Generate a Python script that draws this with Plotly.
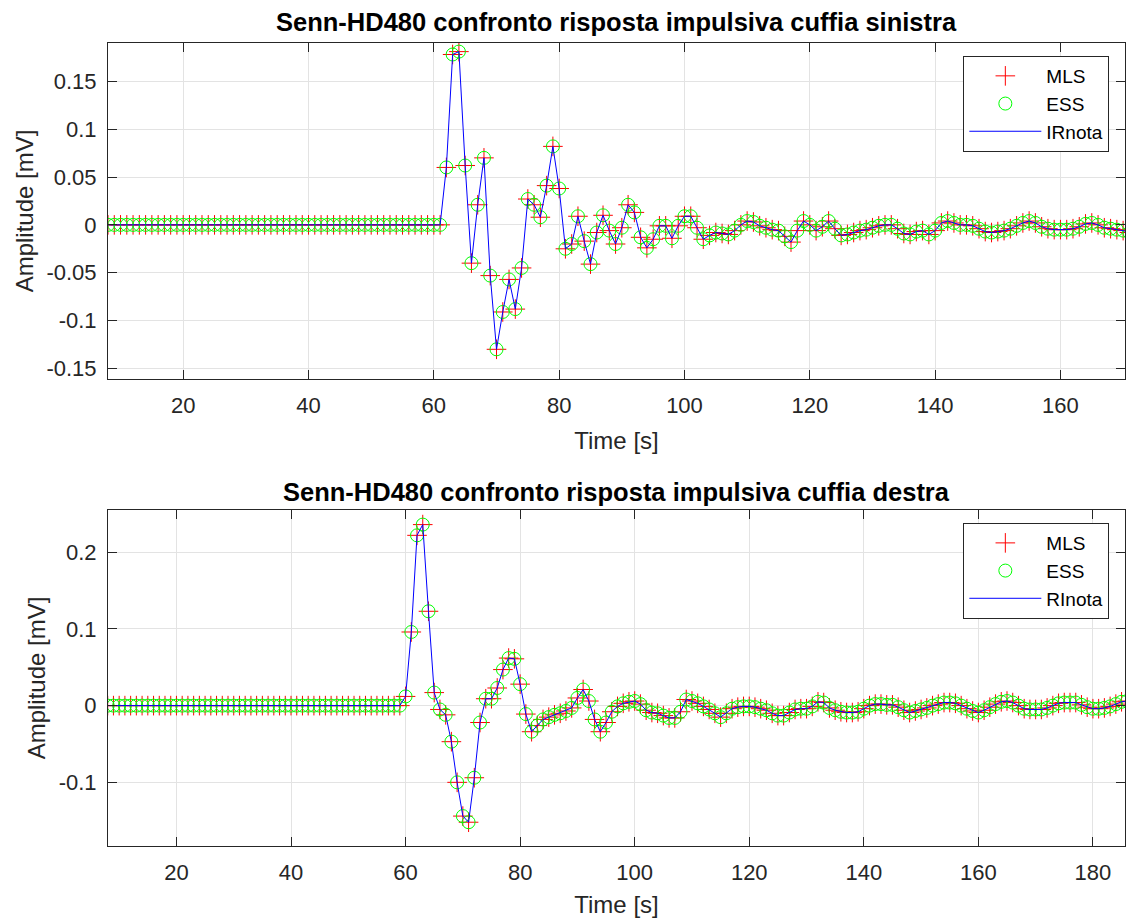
import plotly.graph_objects as go

# ---------------- data ----------------
t_left = list(range(8, 172))
ir_left = [0.0] * 54 + [
    0.060, 0.178, 0.181, 0.062, -0.040, 0.021, 0.070, -0.053, -0.130, -0.091,   # 62-71
    -0.057, -0.088, -0.045, 0.027, 0.021, 0.008, 0.041, 0.082, 0.038, -0.025,   # 72-81
    -0.020, 0.009, -0.017, -0.041, -0.008, 0.010, -0.006, -0.020, -0.003, 0.021,  # 82-91
    0.013, -0.013, -0.024, -0.015, -0.001, -0.001, -0.014, -0.001, 0.009, 0.009,  # 92-101
    -0.003, -0.015, -0.011, -0.008, -0.009, -0.010, -0.006, 0.000, 0.004, 0.003,  # 102-111
    -0.001, -0.003, -0.005, -0.006, -0.012, -0.018, -0.006, 0.004, 0.000, -0.006,  # 112-121
    -0.002, 0.004, -0.004, -0.011, -0.010, -0.008, -0.006, -0.005, -0.003, -0.001,  # 122-131
    0.000, 0.000, -0.004, -0.009, -0.010, -0.007, -0.006, -0.010, -0.006, 0.002,  # 132-141
    0.004, 0.002, 0.000, 0.000, -0.001, -0.004, -0.007, -0.008, -0.007, -0.006,  # 142-151
    -0.004, -0.001, 0.002, 0.004, 0.002, -0.002, -0.004, -0.005, -0.005, -0.005,  # 152-161
    -0.004, -0.002, 0.001, 0.002, 0.000, -0.003, -0.004, -0.005, -0.006, -0.008,  # 162-171
]
mls_left = ir_left
ess_left = ir_left

t_right = list(range(8, 187))
ir_right = [0.0] * 52 + [
    0.012, 0.096, 0.222, 0.236, 0.123, 0.017, -0.005, -0.012, -0.047, -0.100,   # 60-69
    -0.144, -0.152, -0.094, -0.022, 0.009, 0.009, 0.023, 0.047, 0.062, 0.061,   # 70-79
    0.028, -0.011, -0.034, -0.026, -0.018, -0.015, -0.012, -0.010, -0.007, -0.003,  # 80-89
    0.010, 0.021, 0.006, -0.018, -0.034, -0.022, -0.008, -0.001, 0.003, 0.005,  # 90-99
    0.006, 0.002, -0.006, -0.009, -0.010, -0.013, -0.016, -0.016, -0.008, 0.008,  # 100-109
    0.006, 0.003, -0.001, -0.005, -0.010, -0.015, -0.010, -0.004, -0.002, -0.001,  # 110-119
    -0.001, -0.002, -0.004, -0.006, -0.010, -0.013, -0.013, -0.009, -0.005, -0.004,  # 120-129
    -0.004, -0.001, 0.005, 0.004, -0.003, -0.006, -0.008, -0.009, -0.009, -0.008,  # 130-139
    -0.004, 0.000, 0.002, 0.002, 0.001, 0.001, -0.002, -0.006, -0.009, -0.007,  # 140-149
    -0.005, -0.003, 0.000, 0.002, 0.004, 0.004, 0.003, 0.000, -0.004, -0.007,  # 150-159
    -0.009, -0.006, -0.002, 0.002, 0.005, 0.006, 0.004, 0.000, -0.004, -0.005,  # 160-169
    -0.005, -0.005, -0.003, 0.000, 0.003, 0.004, 0.004, 0.004, 0.001, -0.002,  # 170-179
    -0.004, -0.004, -0.003, -0.001, 0.002, 0.005, 0.006,                        # 180-186
]
mls_right = ir_right
ess_right = ir_right

x_ticks_left = [20, 40, 60, 80, 100, 120, 140, 160]
x_ticks_right = [20, 40, 60, 80, 100, 120, 140, 160, 180]
y_ticks_left = [-0.15, -0.1, -0.05, 0, 0.05, 0.1, 0.15]
y_text_left = ["-0.15", "-0.1", "-0.05", "0", "0.05", "0.1", "0.15"]
y_ticks_right = [-0.1, 0, 0.1, 0.2]
y_text_right = ["-0.1", "0", "0.1", "0.2"]

titles = ["Senn-HD480 confronto risposta impulsiva cuffia sinistra",
          "Senn-HD480 confronto risposta impulsiva cuffia destra"]

# ---------------- figure ----------------
FONT = "Liberation Sans, Arial, sans-serif"
AXC = "#262626"
GRID = "#e3e3e3"

fig = go.Figure()

def add_set(x, mls, ess, ir, line_name, xa, ya, legend):
    fig.add_trace(go.Scatter(x=x, y=mls, mode="markers", name="MLS",
                             marker=dict(symbol="cross-thin-open", size=14, color="#ff0000",
                                         line=dict(color="#ff0000", width=1)),
                             xaxis=xa, yaxis=ya, legend=legend, cliponaxis=True))
    fig.add_trace(go.Scatter(x=x, y=ess, mode="markers", name="ESS",
                             marker=dict(symbol="circle-open", size=13, color="#00ff00",
                                         line=dict(color="#00ff00", width=1)),
                             xaxis=xa, yaxis=ya, legend=legend, cliponaxis=True))
    fig.add_trace(go.Scatter(x=x, y=ir, mode="lines", name=line_name,
                             line=dict(color="#0000ff", width=1),
                             xaxis=xa, yaxis=ya, legend=legend))

add_set(t_left, mls_left, ess_left, ir_left, "IRnota", "x", "y", "legend")
add_set(t_right, mls_right, ess_right, ir_right, "RInota", "x2", "y2", "legend2")

axis_common = dict(showgrid=True, gridcolor=GRID, gridwidth=1, zeroline=False,
                   showline=True, linecolor=AXC, linewidth=1, mirror="ticks",
                   ticks="inside", ticklen=9, tickcolor=AXC, tickwidth=1,
                   tickfont=dict(family=FONT, size=22, color=AXC))

ytitle_font = dict(family=FONT, size=24, color=AXC)
legend_common = dict(xanchor="right", yanchor="top", bgcolor="white",
                     bordercolor=AXC, borderwidth=1, itemwidth=72,
                     font=dict(family=FONT, size=19, color="black"), tracegroupgap=0)

fig.update_layout(
    width=1126, height=918,
    margin=dict(l=108, r=1, t=43, b=72),
    paper_bgcolor="white", plot_bgcolor="white",
    font=dict(family=FONT, color=AXC),
    showlegend=True,
    xaxis=dict(axis_common, domain=[0, 1], anchor="y", range=[8, 170.3],
               tickvals=x_ticks_left, ticklabelstandoff=7,
               title=dict(text="Time [s]", font=ytitle_font, standoff=14)),
    yaxis=dict(axis_common, domain=[0.5816, 1.0], anchor="x", range=[-0.161, 0.19],
               tickvals=y_ticks_left, ticktext=y_text_left, ticklabelstandoff=6,
               title=dict(text="Amplitude [mV]", font=ytitle_font, standoff=6)),
    xaxis2=dict(axis_common, domain=[0, 1], anchor="y2", range=[8.05, 185.6],
                tickvals=x_ticks_right, ticklabelstandoff=7,
                title=dict(text="Time [s]", font=ytitle_font, standoff=14)),
    yaxis2=dict(axis_common, domain=[0.0, 0.4184], anchor="x2", range=[-0.183, 0.255],
                tickvals=y_ticks_right, ticktext=y_text_right, ticklabelstandoff=6,
                title=dict(text="Amplitude [mV]", font=ytitle_font, standoff=6)),
    legend=dict(legend_common, x=0.9846, y=0.9838),
    legend2=dict(legend_common, x=0.9846, y=0.4022),
    annotations=[
        dict(text="<b>" + titles[0] + "</b>", xref="paper", yref="paper",
             x=0.5, y=1.026, xanchor="center", yanchor="middle", showarrow=False,
             font=dict(family=FONT, size=25.5, color="black")),
        dict(text="<b>" + titles[1] + "</b>", xref="paper", yref="paper",
             x=0.5, y=0.4408, xanchor="center", yanchor="middle", showarrow=False,
             font=dict(family=FONT, size=25.5, color="black")),
    ],
)

fig.write_html("out.html")
